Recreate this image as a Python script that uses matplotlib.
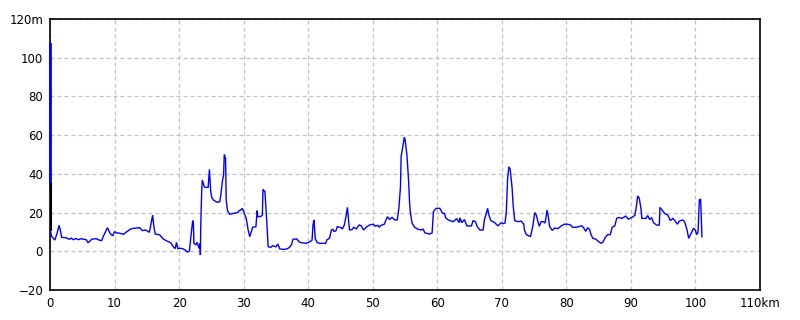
import matplotlib
matplotlib.use("Agg")
import matplotlib.pyplot as plt

# distance (km) and elevation (m) of the profile
km = [0.0, 0.0, 0.3, 0.75, 1.1, 1.4, 1.6, 1.8, 2.5, 3.0, 3.3, 3.6, 4.0, 4.4, 4.8, 5.2, 5.6, 5.9, 6.5, 7.2, 7.6, 8.0,
      8.3, 8.9, 9.3, 9.7, 10.0, 10.4, 10.8, 11.4, 11.85, 12.6, 13.9, 14.3, 14.8, 15.4, 15.9, 16.1, 16.3, 17.0,
      17.5, 18.0, 18.7, 19.1, 19.4, 19.6, 19.8, 20.4, 20.9, 21.3, 21.6, 21.9, 22.1, 22.2, 22.3, 22.6, 22.8,
      23.1, 23.25, 23.3, 23.35, 23.5, 23.6, 23.9, 24.1, 24.5, 24.6, 24.7, 24.9, 25.1, 25.4, 25.9, 26.3, 26.5,
      26.7, 26.9, 27.0, 27.2, 27.3, 27.5, 27.85, 28.4, 29.1, 29.3, 29.5, 29.8, 30.1, 30.4, 30.7, 30.95, 31.1,
      31.4, 31.9, 32.1, 32.2, 32.6, 32.9, 33.0, 33.3, 33.6, 33.8, 34.2, 34.5, 35.0, 35.3, 35.6, 36.2, 36.7,
      37.1, 37.4, 37.65, 38.2, 38.7, 39.7, 40.3, 40.6, 40.75, 40.9, 41.1, 41.4, 41.8, 42.7, 42.9, 43.3, 43.6,
      43.85, 44.0, 44.3, 44.5, 45.1, 45.3, 45.6, 45.9, 46.07, 46.2, 46.4, 46.8, 47.05, 47.45, 47.9, 48.2, 48.6,
      49.0, 49.5, 50.1, 50.4, 50.8, 51.0, 51.3, 51.8, 51.9, 52.3, 52.6, 53.0, 53.4, 53.8, 54.05, 54.3, 54.4,
      54.7, 54.9, 55.0, 55.3, 55.55, 55.7, 55.85, 56.1, 56.5, 57.0, 57.5, 57.8, 58.1, 58.8, 59.2, 59.4, 59.85,
      60.4, 60.8, 61.1, 61.3, 61.6, 61.9, 62.5, 63.0, 63.4, 63.5, 63.8, 64.2, 64.6, 65.3, 65.55, 65.9, 66.2,
      66.6, 67.1, 67.3, 67.6, 67.8, 68.0, 68.3, 68.9, 69.4, 69.9, 70.2, 70.5, 70.7, 70.9, 71.1, 71.3, 71.6,
      71.75, 72.0, 72.5, 73.0, 73.4, 73.5, 73.8, 74.2, 74.45, 74.8, 75.1, 75.35, 75.6, 75.8, 76.1, 76.4, 76.7,
      76.9, 77.0, 77.2, 77.4, 77.8, 78.2, 78.7, 79.2, 79.7, 80.2, 80.7, 80.95, 81.5, 82.0, 82.4, 82.7, 83.0,
      83.3, 83.6, 83.8, 84.1, 84.6, 84.9, 85.4, 85.7, 86.0, 86.4, 86.8, 87.1, 87.5, 87.8, 88.1, 88.6, 89.2,
      89.6, 90.1, 90.6, 90.8, 91.05, 91.3, 91.55, 91.7, 92.35, 92.6, 92.9, 93.2, 93.5, 94.0, 94.4, 94.5, 94.9,
      95.3, 95.7, 96.1, 96.5, 96.8, 97.2, 97.5, 98.0, 98.3, 98.7, 98.95, 99.3, 99.7, 99.98, 100.2, 100.4,
      100.6, 100.8, 100.9, 101.0]
elev = [107, 11, 7.5, 5.8, 9.3, 13.4, 11, 7.2, 7, 6.2, 6.8, 6.0, 6.6, 6.0, 6.5, 6.2, 6.0, 4.4, 6.3, 6.5, 5.8, 5.5,
        8.0, 12.2, 9.3, 8.0, 10.1, 9.5, 9.3, 8.8, 10.0, 11.7, 12.2, 10.7, 11.0, 9.8, 18.7, 12.6, 8.9, 8.5,
        6.5, 5.5, 4.4, 2.4, 1.4, 4.6, 1.4, 1.5, 0.8, -0.4, 0.2, 9.8, 15.6, 15.7, 4.1, 3.3, 4.6,
        1.5, 4.0, -1.9, 12.2, 30.8, 36.8, 33.4, 33.0, 33.0, 37.7, 42.3, 30.8, 27.4, 26.3, 25.3, 25.6, 30.0,
        36.0, 39.6, 50.1, 47.9, 26.5, 21.0, 19.1, 19.6, 20.0, 21.0, 21.2, 22.2, 19.6, 17.0, 11.0, 7.5, 9.3,
        12.4, 12.7, 21.0, 17.9, 17.9, 18.6, 32.0, 30.8, 14.5, 2.4, 2.0, 2.9, 2.3, 3.8, 1.2, 1.0, 1.2,
        2.0, 3.3, 6.2, 6.4, 4.6, 4.1, 5.0, 5.8, 13.6, 16.2, 6.4, 4.5, 4.1, 4.1, 5.9, 6.7, 11.0,
        11.4, 10.2, 10.6, 12.7, 12.2, 11.5, 13.6, 18.7, 22.7, 18.0, 11.0, 11.2, 12.4, 11.6, 13.6, 13.2, 11.0,
        12.4, 13.6, 14.0, 13.0, 13.4, 12.4, 13.4, 14.0, 15.0, 17.9, 16.4, 17.5, 16.2, 16.2, 22.2, 33.4, 48.9,
        54.9, 58.9, 58.0, 49.7, 36.8, 25.6, 19.6, 14.5, 12.4, 11.4, 11.0, 11.4, 9.5, 8.9, 9.5, 20.5, 22.2,
        22.2, 19.6, 19.6, 17.4, 16.4, 15.9, 15.3, 16.9, 14.8, 17.4, 14.8, 16.4, 13.1, 13.1, 15.9, 15.3, 12.7,
        11.0, 11.0, 16.2, 19.6, 22.2, 18.7, 15.9, 14.8, 13.1, 14.8, 14.3, 14.6, 20.5, 37.7, 43.7, 42.3, 32.5,
        23.9, 15.8, 15.3, 15.6, 14.0, 11.0, 8.6, 8.0, 7.6, 12.9, 20.0, 18.6, 15.3, 12.9, 15.3, 15.3, 14.6,
        18.7, 21.3, 18.0, 12.9, 10.8, 12.0, 11.7, 13.1, 14.0, 14.0, 13.5, 12.4, 12.4, 12.8, 13.2, 12.0, 10.3,
        12.2, 11.3, 8.8, 6.7, 6.2, 5.2, 4.1, 4.9, 7.0, 8.6, 8.6, 12.4, 13.1, 17.0, 17.5, 17.0, 18.2,
        16.6, 17.4, 18.5, 22.2, 28.6, 27.4, 22.2, 17.0, 17.0, 18.5, 16.4, 17.4, 14.8, 13.5, 13.5, 22.7, 21.0,
        19.3, 18.8, 15.9, 17.0, 15.9, 14.0, 15.6, 16.2, 15.5, 11.0, 6.7, 9.0, 11.9, 11.0, 8.6, 9.8,
        26.5, 27.0, 16.4, 7.5]

x_ticks = [0, 10, 20, 30, 40, 50, 60, 70, 80, 90, 100, 110]
x_labels = ["0", "10", "20", "30", "40", "50", "60", "70", "80", "90", "100", "110km"]
y_ticks = [-20, 0, 20, 40, 60, 80, 100, 120]
y_labels = ["\u221220", "0", "20", "40", "60", "80", "100", "120m"]

fig = plt.figure(figsize=(8, 3.2), dpi=100)
ax = fig.add_axes([50 / 800, 30 / 320, 710 / 800, 271 / 320])

ax.plot(km, elev, color="#0000ff", lw=1.0, solid_joinstyle="miter", zorder=3)
ax.plot([0, 0], [107, 35], color="#0000ff", lw=2.0, zorder=3, clip_on=False)
ax.plot([0.15, 0.15], [35, 11], color="black", lw=1.5, zorder=3)

ax.set_xlim(0, 110)
ax.set_ylim(-20, 120)
ax.set_xticks(x_ticks)
ax.set_xticklabels(x_labels)
ax.set_yticks(y_ticks)
ax.set_yticklabels(y_labels)
ax.tick_params(length=0, labelsize=8.5, pad=5, colors="black")
ax.grid(True, color="#c0c0c0", linestyle=(0, (3.2, 2.4)), linewidth=0.9)
ax.set_axisbelow(True)
for s in ax.spines.values():
    s.set_linewidth(1.2)
    s.set_color("black")

fig.savefig("out.png", dpi=100)
